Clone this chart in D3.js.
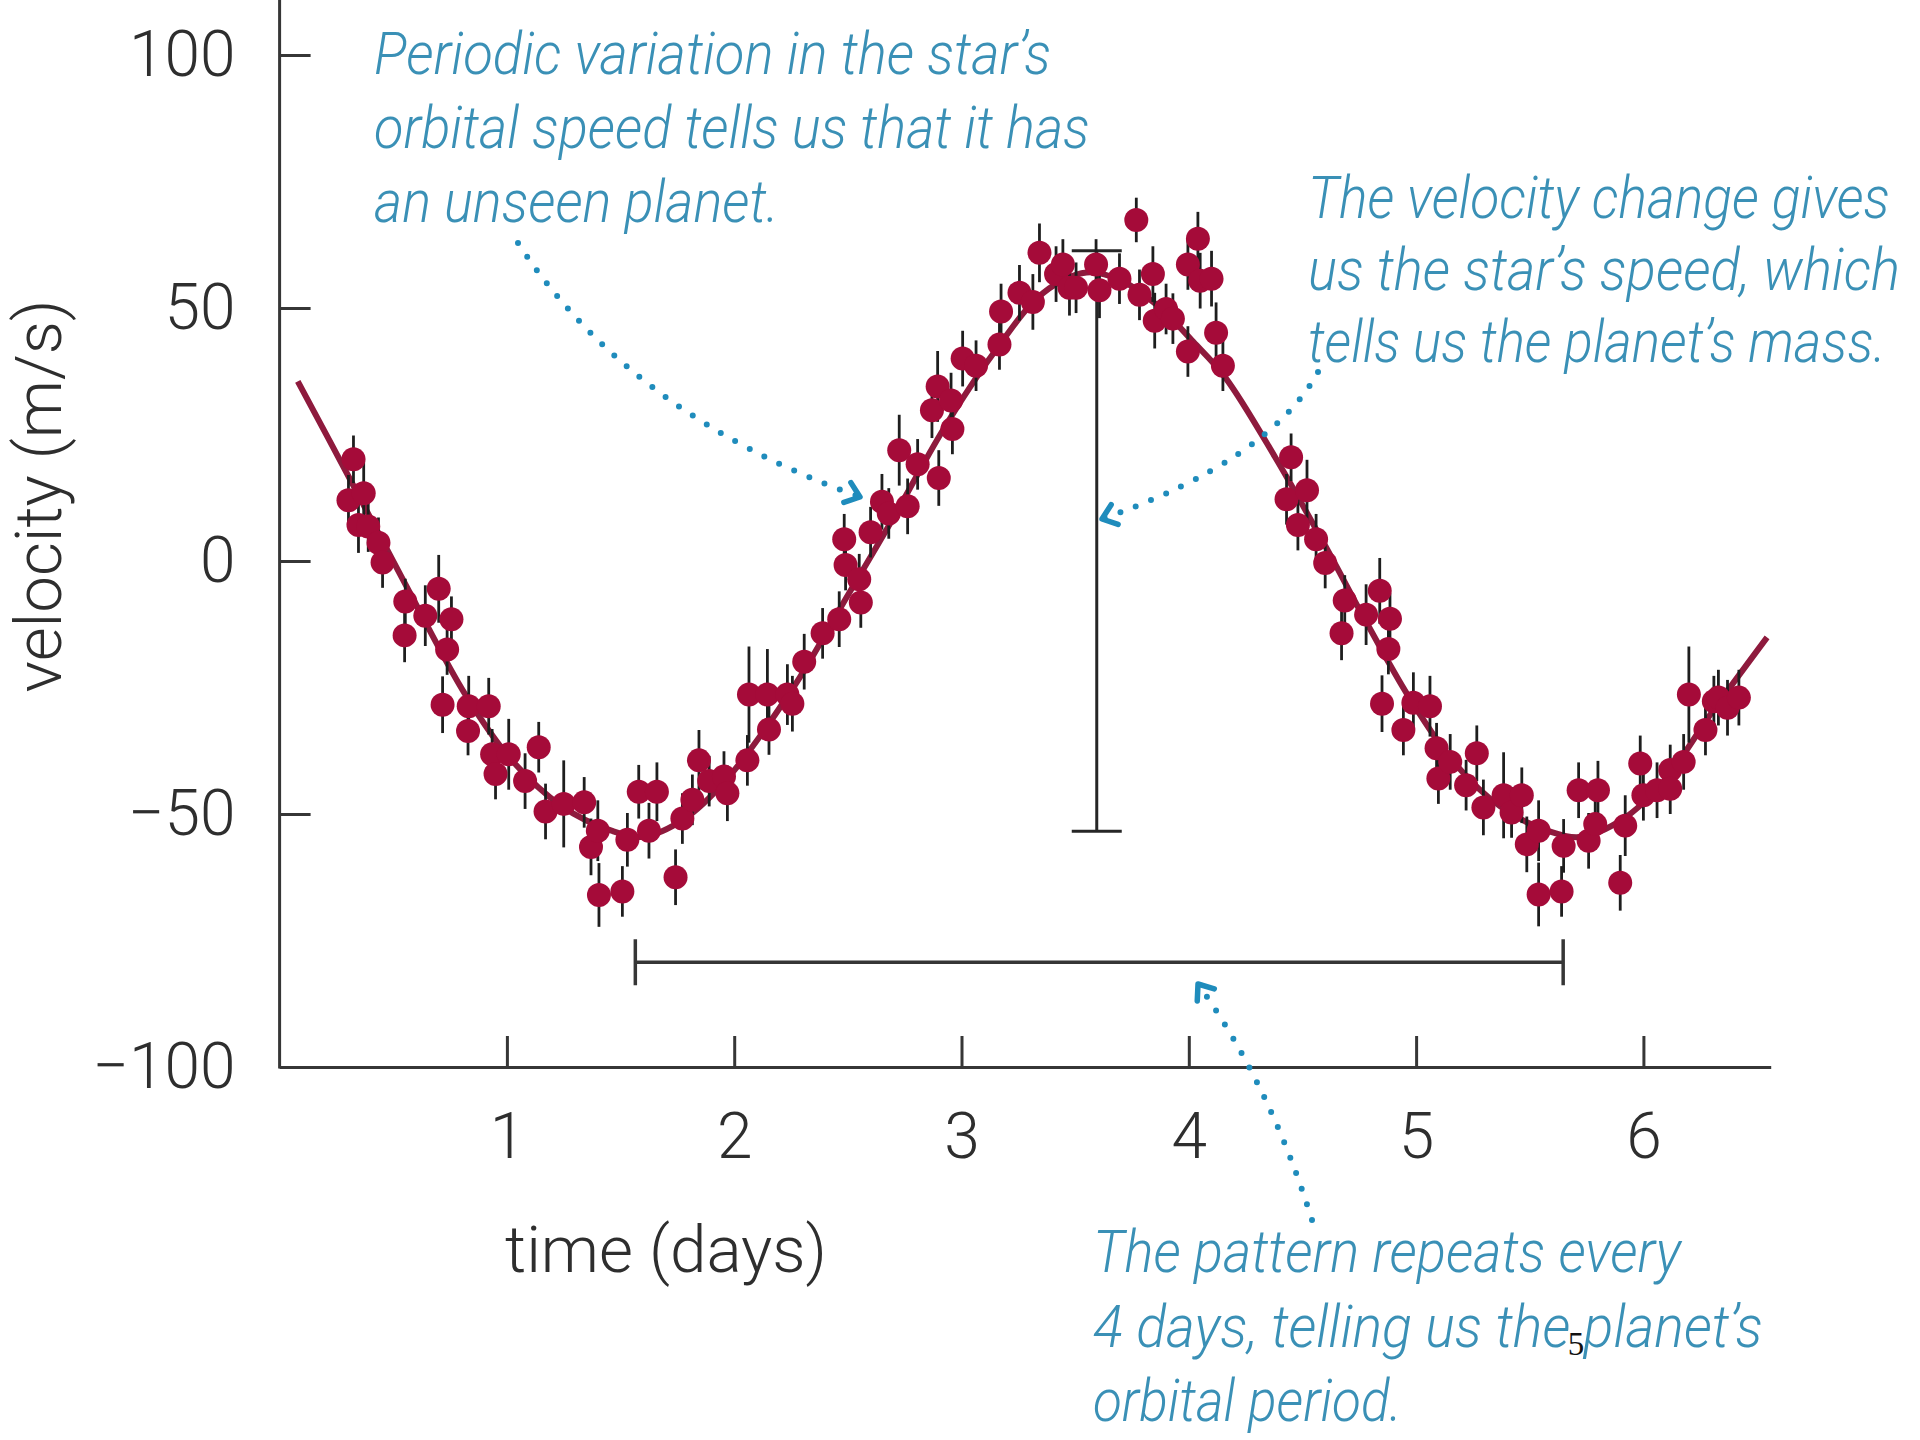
<!DOCTYPE html>
<html>
<head>
<meta charset="utf-8">
<script src="https://cdn.jsdelivr.net/npm/d3@7"></script>
<style>
  body { margin: 0; background: #fff; }
</style>
</head>
<body>
<div id="viz"></div>
<script>
// measured radial velocities: [day, velocity m/s, error m/s]
const observations = [
    [0.303, 12.0, 5], [0.325, 20.1, 4.7], [0.347, 7.1, 5.5], [0.37, 13.4, 7], [0.39, 6.8, 5],
    [0.435, 3.6, 5], [0.453, -0.3, 5], [0.55, -14.7, 5.3], [0.553, -8.0, 4.5], [0.641, -10.8, 6],
    [0.70, -5.5, 6.7], [0.717, -28.4, 5.6], [0.737, -17.5, 5], [0.756, -11.5, 4.5], [0.829, -33.6, 4.8],
    [0.832, -28.7, 6], [0.92, -28.7, 5.6], [0.935, -38.2, 5], [0.95, -42.1, 5], [1.008, -38.2, 7],
    [1.08, -43.5, 5.5], [1.14, -36.8, 5], [1.17, -49.5, 5.5], [1.25, -48.0, 8.6], [1.34, -47.7, 5],
    [1.37, -56.5, 5.6], [1.40, -53.3, 6], [1.405, -66, 6.3], [1.508, -65.3, 5], [1.53, -55.1, 5.3],
    [1.58, -45.6, 5.3], [1.625, -53.3, 5.5], [1.66, -45.6, 5.8], [1.742, -62.5, 5.5],
    [1.772, -50.9, 5], [1.816, -47.2, 5], [1.845, -39.4, 6], [1.89, -43.5, 5], [1.955, -42.6, 5],
    [1.97, -45.9, 5.5], [2.058, -39.4, 5], [2.065, -26.4, 9.5], [2.146, -26.4, 9], [2.153, -33.3, 5],
    [2.234, -26.4, 6], [2.256, -28.2, 5.5], [2.308, -19.9, 5.5], [2.389, -14.3, 5], [2.462, -11.5, 5.5],
    [2.484, 4.3, 5], [2.49, -0.8, 5], [2.55, -3.6, 5], [2.557, -8.2, 5], [2.60, 5.7, 5],
    [2.65, 11.7, 5.5], [2.68, 9.4, 5], [2.726, 21.9, 7], [2.763, 10.8, 5.5], [2.807, 19.1, 5],
    [2.87, 29.8, 5.5], [2.895, 34.5, 7], [2.90, 16.4, 5.5], [2.954, 31.7, 5.5], [2.96, 26.1, 5],
    [3.005, 40.0, 5.5], [3.064, 38.6, 5], [3.167, 42.8, 5], [3.174, 49.3, 5.5], [3.255, 53.0, 5.5],
    [3.314, 51.2, 5.5], [3.343, 60.9, 5.8], [3.416, 56.7, 5.5], [3.446, 58.6, 5], [3.475, 54.0, 5.5],
    [3.504, 54.0, 5], [3.592, 58.6, 5], [3.607, 53.5, 5.5], [3.695, 55.8, 5], [3.769, 67.4, 4.4],
    [3.783, 52.6, 5], [3.842, 56.7, 5.5], [3.85, 47.5, 5.5], [3.90, 49.8, 5], [3.93, 47.9, 5],
    [3.996, 41.4, 5], [3.996, 58.6, 5], [4.04, 63.7, 5.3], [4.05, 55.4, 5.5], [4.10, 55.8, 5.5],
    [4.12, 45.1, 6], [4.15, 38.6, 5],
    [4.43, 12.2, 5], [4.45, 20.5, 4.7], [4.48, 7.1, 5], [4.52, 14.0, 6], [4.56, 4.3, 5],
    [4.60, -0.4, 5], [4.672, -14.3, 5.3], [4.686, -7.8, 5], [4.78, -10.6, 6], [4.84, -5.9, 6.5],
    [4.85, -28.2, 5.6], [4.878, -17.4, 5], [4.885, -11.4, 5], [4.944, -33.4, 5], [4.988, -28.0, 6],
    [5.061, -28.7, 6], [5.09, -37.0, 5], [5.098, -43.0, 5], [5.15, -39.7, 5.5], [5.22, -44.3, 5],
    [5.267, -38.0, 5.5], [5.296, -48.7, 5.5], [5.385, -46.3, 8.5], [5.42, -49.7, 5], [5.465, -46.3, 5.5],
    [5.487, -56.0, 5.5], [5.539, -53.3, 6], [5.539, -65.9, 6.3], [5.64, -65.3, 5], [5.649, -56.3, 5.3],
    [5.715, -45.3, 5.5], [5.759, -55.3, 5.5], [5.788, -52.0, 5], [5.80, -45.3, 5.8], [5.898, -63.6, 5.5],
    [5.92, -52.3, 6], [5.986, -40.0, 5.5], [6.0, -46.3, 5], [6.06, -45.3, 5.5], [6.118, -41.3, 5],
    [6.118, -45.0, 5], [6.177, -39.7, 5.5], [6.2, -26.4, 9.5], [6.273, -33.4, 5], [6.31, -27.7, 5],
    [6.33, -27.0, 5.5], [6.37, -29.0, 5.5], [6.42, -27.0, 5.5]
];

// fitted orbit curve: [day, velocity]
const fitCurve = [
    [0.08, 35.5], [0.3, 17], [0.57, -6], [0.82, -26.6], [1.02, -39.3], [1.24, -48.4], [1.46, -53.3],
    [1.6, -54.5], [1.78, -51], [1.96, -43.5], [2.26, -25], [2.48, -8.3], [2.70, 8.5], [2.92, 26],
    [3.14, 41], [3.36, 53], [3.55, 57], [3.7, 55.5], [3.87, 50.2], [4.02, 43.3], [4.16, 36.3],
    [4.38, 20.5], [4.6, 3], [4.78, -12], [4.97, -27], [5.17, -40], [5.37, -48.5], [5.59, -53.5],
    [5.73, -54.5], [5.91, -51], [6.09, -43.5], [6.3, -30], [6.544, -15.1]
];

const xTicks = [1, 2, 3, 4, 5, 6];
const yTicks = [-100, -50, 0, 50, 100];

// velocity range bracket: [day, low, high]
const amplitudeBar = [3.595, -53.4, 61.3];
// period bracket: [start day, end day, velocity]
const periodBar = [1.565, 5.647, -79.3];

const noteMotion = ["Periodic variation in the star\u2019s", "orbital speed tells us that it has", "an unseen planet."];
const noteSpeed = ["The velocity change gives", "us the star\u2019s speed, which", "tells us the planet\u2019s mass."];
const notePeriod = ["The pattern repeats every", "4 days, telling us the planet\u2019s", "orbital period."];

const width = 1920;
const height = 1440;
const ink = '#363636';
const noteColor = '#3a90b6';
const arrowColor = '#1f8cbc';
const labelFont = 'Roboto, "Helvetica Neue", Arial, sans-serif';

const svg = d3.select('#viz').append('svg')
    .attr('width', width)
    .attr('height', height)
    .style('background', '#fff');

const x = d3.scaleLinear().domain([0, 6.56]).range([279.6, 1770.7]);
const y = d3.scaleLinear().domain([-100, 100]).range([1067, 55]);

// squeeze a text horizontally so it spans the measured width
function fitText(sel, left, base, w, anchor) {
    const natural = sel.node().getComputedTextLength();
    const k = w / natural;
    sel.attr('transform', `translate(${left},${base}) scale(${k},1)`)
        .attr('text-anchor', anchor || 'start');
    return sel;
}

// axes
const yAxis = svg.append('g')
    .attr('transform', `translate(${x(0)},0)`)
    .call(d3.axisLeft(y)
        .tickValues(yTicks)
        .tickSizeInner(-31)
        .tickSizeOuter(0)
        .tickPadding(44)
        .tickFormat(d => d < 0 ? '\u2212' + Math.abs(d) : d));
yAxis.select('.domain').remove();

const xAxis = svg.append('g')
    .attr('transform', `translate(0,${y(-100)})`)
    .call(d3.axisBottom(x)
        .tickValues(xTicks)
        .tickSizeInner(-31)
        .tickSizeOuter(0)
        .tickPadding(46)
        .tickFormat(d3.format('d')));

[yAxis, xAxis].forEach(g => {
    g.attr('color', ink)
        .attr('font-family', labelFont)
        .attr('font-size', 64)
        .attr('font-weight', 300);
    g.selectAll('line, path').attr('stroke-width', 3);
    g.selectAll('text').attr('fill', '#2e2e2e');
});

svg.append('line')
    .attr('x1', x(0)).attr('x2', x(0))
    .attr('y1', 0).attr('y2', y(-100) + 1.5)
    .attr('stroke', ink)
    .attr('stroke-width', 3);

const xTitle = svg.append('text')
    .attr('font-family', labelFont)
    .attr('font-weight', 300)
    .attr('font-size', 64)
    .attr('fill', '#2e2e2e')
    .text('time (days)');
fitText(xTitle, 666, 1272, 322, 'middle');

const yTitle = svg.append('text')
    .attr('font-family', labelFont)
    .attr('font-weight', 300)
    .attr('font-size', 64)
    .attr('fill', '#2e2e2e')
    .text('velocity (m/s)');
const yk = 393 / yTitle.node().getComputedTextLength();
yTitle.attr('text-anchor', 'middle')
    .attr('transform', `translate(61,496) rotate(-90) scale(${yk},1)`);

// brackets
const amp = svg.append('g').attr('stroke', '#262626').attr('stroke-width', 3);
amp.append('line')
    .attr('x1', x(amplitudeBar[0])).attr('x2', x(amplitudeBar[0]))
    .attr('y1', y(amplitudeBar[2])).attr('y2', y(amplitudeBar[1]));
[amplitudeBar[1], amplitudeBar[2]].forEach(v => {
    amp.append('line')
        .attr('x1', x(amplitudeBar[0]) - 25).attr('x2', x(amplitudeBar[0]) + 25)
        .attr('y1', y(v)).attr('y2', y(v));
});

const per = svg.append('g').attr('stroke', ink).attr('stroke-width', 3.5);
per.append('line')
    .attr('x1', x(periodBar[0])).attr('x2', x(periodBar[1]))
    .attr('y1', y(periodBar[2])).attr('y2', y(periodBar[2]));
[periodBar[0], periodBar[1]].forEach(d => {
    per.append('line')
        .attr('x1', x(d)).attr('x2', x(d))
        .attr('y1', y(periodBar[2]) - 23).attr('y2', y(periodBar[2]) + 23);
});

// fitted curve
svg.append('path')
    .datum(fitCurve)
    .attr('fill', 'none')
    .attr('stroke', '#8e1a3d')
    .attr('stroke-width', 6)
    .attr('d', d3.line()
        .x(d => x(d[0]))
        .y(d => y(d[1]))
        .curve(d3.curveCatmullRom.alpha(0.5)));

// error bars and points
svg.append('g')
    .selectAll('line')
    .data(observations)
    .enter()
    .append('line')
    .attr('x1', d => x(d[0])).attr('x2', d => x(d[0]))
    .attr('y1', d => y(d[1] + d[2])).attr('y2', d => y(d[1] - d[2]))
    .attr('stroke', '#1e1e1e')
    .attr('stroke-width', 2.8);

svg.append('g')
    .selectAll('circle')
    .data(observations)
    .enter()
    .append('circle')
    .attr('cx', d => x(d[0]))
    .attr('cy', d => y(d[1]))
    .attr('r', 12)
    .attr('fill', '#a50b39');

// annotations
function drawNote(lines, left, baselines, widths) {
    lines.forEach((line, i) => {
        const t = svg.append('text')
            .attr('font-family', labelFont)
            .attr('font-style', 'italic')
            .attr('font-weight', 300)
            .attr('font-size', 59)
            .attr('fill', noteColor)
            .text(line);
        fitText(t, left, baselines[i], widths[i]);
    });
}

drawNote(noteMotion, 374, [74, 148, 222], [677, 716, 405]);
drawNote(noteSpeed, 1308, [218, 290, 362], [582, 592, 578]);
drawNote(notePeriod, 1093, [1272, 1347, 1421], [588, 670, 309]);

function dottedArrow(start, ctrl, end) {
    svg.append('path')
        .attr('d', `M${start[0]},${start[1]} Q${ctrl[0]},${ctrl[1]} ${end[0]},${end[1]}`)
        .attr('fill', 'none')
        .attr('stroke', arrowColor)
        .attr('stroke-width', 6)
        .attr('stroke-linecap', 'round')
        .attr('stroke-dasharray', '0 16.5');

    const dx = end[0] - ctrl[0];
    const dy = end[1] - ctrl[1];
    const len = Math.hypot(dx, dy);
    const ux = dx / len, uy = dy / len;
    const arm = 17, a = 38 * Math.PI / 180;
    const p1 = [end[0] - arm * (ux * Math.cos(a) - uy * Math.sin(a)), end[1] - arm * (uy * Math.cos(a) + ux * Math.sin(a))];
    const p2 = [end[0] - arm * (ux * Math.cos(a) + uy * Math.sin(a)), end[1] - arm * (uy * Math.cos(a) - ux * Math.sin(a))];
    svg.append('path')
        .attr('d', `M${p1[0]},${p1[1]} L${end[0]},${end[1]} L${p2[0]},${p2[1]}`)
        .attr('fill', 'none')
        .attr('stroke', arrowColor)
        .attr('stroke-width', 5.5)
        .attr('stroke-linecap', 'round')
        .attr('stroke-linejoin', 'round');
}

dottedArrow([518, 243], [630, 415], [860, 497]);
dottedArrow([1318, 372], [1270, 460], [1102, 519]);
dottedArrow([1312, 1220], [1270, 1085], [1198, 984]);

// page number
svg.append('text')
    .attr('x', 1576)
    .attr('y', 1355)
    .attr('text-anchor', 'middle')
    .attr('font-family', '"Liberation Serif", "Times New Roman", serif')
    .attr('font-size', 33)
    .attr('fill', '#111')
    .text('5');
</script>
</body>
</html>
